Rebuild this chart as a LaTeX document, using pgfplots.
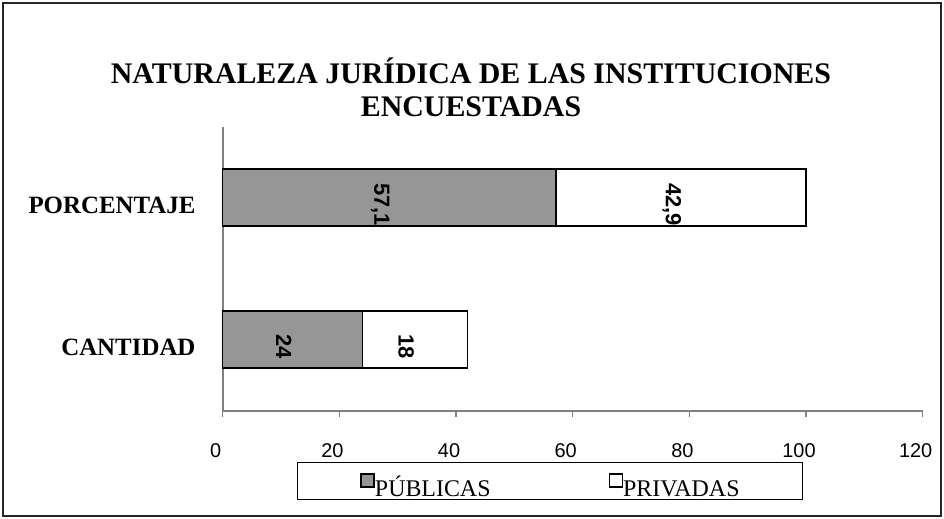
\documentclass[border=0pt]{standalone}
\usepackage{fontspec}
\setmainfont{Liberation Serif}
\newfontfamily\arialfont{Liberation Sans}
\usepackage{pgfplots}
\pgfplotsset{compat=1.18}
\definecolor{bargray}{RGB}{150,150,150}
\definecolor{axisgray}{RGB}{128,128,128}
\pgfplotsset{mylegend/.style={legend image code/.code={\draw[##1, line width=1.5bp] (0bp,-6bp) rectangle (13bp,7bp);}}}
\begin{document}
\begin{tikzpicture}
\useasboundingbox (0bp,0bp) rectangle (944bp,-519bp);
\draw[line width=1.5bp, black!85] (3bp,-3bp) rectangle (941bp,-516bp);
\node[font=\fontsize{30}{33}\selectfont\bfseries, align=center] at (471bp,-87bp) {NATURALEZA JURÍDICA DE LAS INSTITUCIONES\\ENCUESTADAS};
\begin{axis}[
  at={(222.7bp,-410.7bp)}, anchor=south west,
  scale only axis, width=700bp, height=284bp,
  xbar stacked, bar width=57bp,
  xmin=0, xmax=120, ymin=-0.5, ymax=1.5,
  axis x line*=bottom, axis y line*=left,
  axis line style={axisgray, line width=2bp},
  xtick={0,20,...,120}, ytick={0,1}, yticklabels={CANTIDAD,PORCENTAJE},
  tick align=outside, major tick length=6bp,
  xtick style={axisgray, line width=1.5bp},
  ytick style={draw=none},
  /pgf/number format/assume math mode=true,
  xticklabel style={font=\fontsize{20}{20}\selectfont\arialfont, anchor=base, yshift=-41bp, xshift=-7bp},
  yticklabel style={font=\fontsize{25}{25}\selectfont\bfseries, anchor=base east, inner sep=0pt, yshift=-15.5bp, xshift=-21bp},
  legend style={at={(0.1061,-0.1806)}, anchor=north west, legend columns=2, draw=black, line width=1bp,
    inner xsep=63bp, inner ysep=0bp, font=\fontsize{24}{24}\selectfont,
    nodes={inner sep=0pt, text height=34bp, text depth=3bp},
    /tikz/every even column/.append style={column sep=118bp}},
  clip=false,
]
\addplot[fill=bargray, draw=black, line width=1.5bp, mylegend] coordinates {(24,0) (57.1,1)};
\addplot[fill=white, draw=black, line width=1.5bp, mylegend] coordinates {(18,0) (42.9,1)};
\legend{PÚBLICAS,PRIVADAS}
\end{axis}
\begin{axis}[
  at={(222.7bp,-410.7bp)}, anchor=south west,
  scale only axis, width=700bp, height=284bp,
  xmin=0, xmax=120, ymin=-0.5, ymax=1.5,
  hide axis, clip=false,
]
\addplot[draw=none, mark=none, nodes near coords, point meta=explicit symbolic,
  every node near coord/.append style={anchor=center, font=\fontsize{22}{22}\selectfont\arialfont\bfseries, xshift=-9bp, yshift=-7bp, rotate=-90}]
  coordinates {(28.55,1) [{57,1}] (78.55,1) [{42,9}] (12,0) [24] (33,0) [18]};
\end{axis}
\end{tikzpicture}
\end{document}
